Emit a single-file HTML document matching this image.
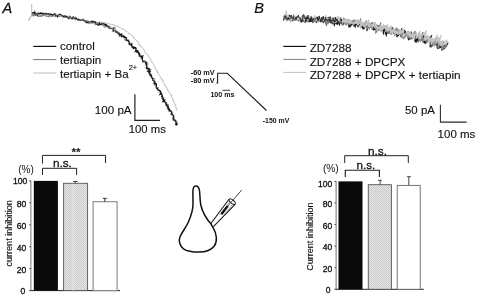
<!DOCTYPE html>
<html lang="en"><head><meta charset="utf-8"><title>Figure</title>
<style>
html,body{margin:0;padding:0;background:#fff;}
body{width:478px;height:296px;overflow:hidden;}
svg{display:block;filter:blur(0.3px);font-family:"Liberation Sans", Arial, sans-serif;}
text{fill:#111;}
.lg{font-size:11.6px;stroke:#111;stroke-width:0.12px;}
.sc{font-size:11.1px;stroke:#111;stroke-width:0.12px;}
.tk{font-size:8.9px;stroke:#111;stroke-width:0.32px;}
.pc{font-size:10.2px;}
.sm{font-size:6.6px;font-weight:bold;}
</style></head><body>
<svg width="478" height="296" viewBox="0 0 478 296">
<defs>
<pattern id="dots" width="2" height="2" patternUnits="userSpaceOnUse"><rect width="2" height="2" fill="#e0e0e0"/><rect width="1" height="1" fill="#d0d0d0"/><rect x="1" y="1" width="1" height="1" fill="#d0d0d0"/></pattern>
</defs>
<rect width="478" height="296" fill="#fff"/>

<text x="2.5" y="13" font-size="14.5" font-style="italic" stroke="#111" stroke-width="0.3">A</text>
<text x="254.3" y="12.8" font-size="14.6" font-style="italic" stroke="#111" stroke-width="0.15">B</text>
<path d="M32.0,16.1 L32.7,15.6 L33.4,15.5 L34.1,14.9 L34.8,15.4 L35.5,15.5 L36.2,15.7 L36.9,15.7 L37.6,16.1 L38.3,16.1 L39.0,15.9 L39.7,16.5 L40.4,16.4 L41.1,16.7 L41.8,16.2 L42.5,16.0 L43.2,15.7 L43.9,15.2 L44.6,15.7 L45.3,15.1 L46.0,15.2 L46.7,15.7 L47.4,16.5 L48.1,16.3 L48.8,15.9 L49.5,15.9 L50.2,16.2 L50.9,16.0 L51.6,15.9 L52.3,16.1 L53.0,16.4 L53.7,16.8 L54.4,16.1 L55.1,16.5 L55.8,16.5 L56.5,16.1 L57.2,16.4 L57.9,16.3 L58.6,16.8 L59.3,16.3 L60.1,15.8 L60.7,16.6 L61.4,16.4 L62.2,16.2 L62.8,16.9 L63.4,17.2 L64.1,17.4 L64.8,17.6 L65.6,16.8 L66.3,17.2 L66.9,17.5 L67.6,17.7 L68.3,18.1 L68.9,18.4 L69.6,18.6 L70.4,17.9 L71.0,18.6 L71.9,17.9 L72.5,18.3 L73.3,17.9 L73.8,18.8 L74.5,19.0 L75.3,18.7 L75.8,19.5 L76.7,18.9 L77.3,19.2 L78.0,19.5 L78.7,19.5 L79.2,20.3 L79.8,20.8 L80.8,19.8 L81.4,20.3 L82.2,20.0 L82.7,20.8 L83.4,20.7 L84.1,21.0 L84.7,21.3 L85.4,21.4 L86.2,21.1 L86.7,22.0 L87.6,21.1 L88.2,21.5 L88.9,21.6 L89.6,21.4 L90.3,21.9 L91.0,22.4 L91.7,22.2 L92.4,21.9 L93.2,21.3 L93.8,21.9 L94.5,22.1 L95.2,22.2 L95.9,22.2 L96.6,22.7 L97.3,22.5 L98.0,22.7 L98.7,23.0 L99.4,22.4 L100.1,22.6 L100.7,23.4 L101.4,23.1 L102.2,22.6 L102.9,23.0 L103.5,23.1 L104.2,23.3 L105.0,23.0 L105.7,22.9 L106.4,23.0 L107.0,23.5 L107.7,23.5 L108.5,23.5 L109.1,23.8 L109.8,23.9 L110.4,24.4 L111.2,24.1 L111.8,24.5 L112.5,24.6 L113.2,24.7 L114.0,24.7 L114.4,25.8 L115.2,25.7 L115.7,26.3 L116.5,26.0 L117.4,25.7 L117.8,26.5 L118.4,26.8 L119.1,27.1 L119.6,27.5 L120.4,27.6 L121.0,27.9 L121.5,28.4 L121.9,29.3 L122.7,29.2 L123.6,28.9 L124.1,29.5 L124.9,29.7 L125.3,30.2 L125.5,31.1 L126.2,31.4 L126.9,31.5 L127.4,32.1 L127.9,32.6 L128.5,33.0 L128.8,33.7 L129.7,33.6 L130.1,34.3 L130.7,34.6 L131.5,34.9 L131.9,35.4 L132.5,35.8 L133.2,36.1 L133.1,37.2 L133.9,37.4 L134.0,38.3 L134.5,38.8 L135.0,39.3 L135.8,39.5 L136.2,40.0 L136.8,40.4 L137.1,41.1 L138.0,41.3 L138.2,42.0 L138.5,42.6 L139.0,43.2 L138.3,44.6 L139.3,44.7 L140.1,45.0 L140.0,46.0 L141.1,46.0 L141.3,46.7 L141.7,47.3 L142.4,47.6 L142.7,48.3 L143.1,48.8 L143.4,49.5 L144.2,49.8 L144.5,50.5 L144.6,51.2 L144.7,52.0 L145.2,52.5 L145.4,53.2 L146.2,53.5 L147.0,53.8 L147.4,54.4 L148.2,54.7 L148.2,55.5 L148.6,56.1 L148.6,56.9 L149.0,57.5 L149.7,57.9 L150.0,58.6 L150.5,59.1 L150.5,59.9 L150.8,60.5 L151.3,61.0 L152.1,61.4 L151.8,62.4 L152.4,62.8 L152.9,63.3 L153.3,64.0 L153.5,64.6 L153.7,65.3 L154.3,65.8 L154.6,66.4 L154.9,67.1 L155.0,67.8 L155.2,68.5 L155.8,68.9 L156.1,69.6 L156.7,70.0 L157.2,70.6 L156.8,71.6 L157.8,71.9 L157.4,72.9 L158.4,73.1 L158.5,73.8 L158.6,74.6 L159.2,75.0 L159.5,75.7 L160.0,76.2 L160.4,76.8 L160.7,77.4 L161.2,77.9 L161.0,78.9 L161.9,79.2 L161.7,80.1 L163.2,80.1 L162.8,81.1 L163.0,81.8 L163.5,82.3 L163.5,83.1 L164.0,83.6 L164.6,84.1 L164.9,84.7 L164.7,85.6 L165.8,85.8 L166.1,86.5 L166.5,87.0 L166.6,87.8 L167.2,88.3 L167.3,89.0 L167.1,89.9 L168.0,90.2 L168.6,90.7 L168.8,91.3 L168.8,92.1 L169.4,92.6 L169.4,93.4 L170.1,93.8 L170.7,94.3 L170.6,95.2 L171.8,95.3 L171.5,96.2 L171.6,97.0 L172.2,97.5 L172.4,98.2 L172.8,98.7 L173.2,99.3 L172.7,100.4 L173.6,100.7 L173.9,101.3 L173.7,102.2 L174.3,102.7 L174.3,103.4 L174.9,103.9 L175.0,104.6 L176.1,105.0 L175.5,105.9 L175.7,106.5 L176.2,107.2 L175.6,108.0 L176.4,108.5 L176.1,109.3 L176.8,109.9 L177.0,110.5" fill="none" stroke="#b8b8b8" stroke-width="1"/>
<path d="M32.0,15.3 L32.6,15.7 L33.1,14.3 L33.6,16.3 L34.2,14.0 L34.8,14.6 L35.3,15.6 L35.9,14.8 L36.4,15.0 L37.0,15.0 L37.5,15.7 L38.0,16.8 L38.6,15.7 L39.1,15.4 L39.7,16.7 L40.2,16.0 L40.8,16.0 L41.3,16.2 L41.9,14.8 L42.4,15.3 L43.0,14.8 L43.5,15.3 L44.1,15.6 L44.7,15.0 L45.2,15.7 L45.7,16.3 L46.3,16.6 L46.8,16.5 L47.4,16.4 L47.9,16.9 L48.5,16.3 L49.0,17.3 L49.6,14.2 L50.1,15.7 L50.7,16.0 L51.2,16.7 L51.8,16.2 L52.4,15.3 L52.9,15.5 L53.5,15.4 L54.0,14.6 L54.6,15.3 L55.2,14.0 L55.6,16.7 L56.1,16.9 L56.7,16.0 L57.2,16.5 L57.8,16.1 L58.4,15.6 L58.9,16.2 L59.4,16.7 L60.1,15.7 L60.6,15.6 L61.2,15.7 L61.7,16.1 L62.2,16.6 L62.9,15.4 L63.3,16.1 L63.9,16.0 L64.6,15.0 L65.0,16.1 L65.5,16.4 L66.1,16.6 L66.5,17.2 L67.2,16.2 L67.6,17.6 L68.2,17.3 L68.8,16.8 L69.2,17.7 L69.8,17.6 L70.6,16.6 L70.9,17.6 L71.5,17.3 L71.9,18.1 L72.5,17.9 L72.7,19.6 L73.9,17.0 L74.1,18.3 L74.7,18.4 L75.6,16.6 L76.0,17.5 L76.5,17.7 L76.9,18.7 L77.2,19.7 L77.8,19.4 L78.5,19.2 L78.6,20.9 L79.2,20.7 L80.0,19.6 L80.5,20.0 L81.1,19.9 L81.7,19.9 L82.3,19.6 L82.7,20.4 L83.7,18.7 L83.8,20.6 L84.3,20.6 L84.9,20.8 L85.1,22.0 L86.2,20.0 L86.3,21.9 L86.9,21.5 L87.6,20.8 L87.9,22.0 L88.5,21.9 L88.7,23.7 L89.4,23.3 L90.1,22.5 L90.8,21.9 L91.3,21.9 L91.9,21.8 L92.6,21.4 L93.1,21.2 L93.6,21.7 L94.1,22.3 L94.6,22.4 L95.2,22.3 L95.7,22.3 L95.9,24.5 L96.8,22.3 L97.3,22.6 L97.8,23.4 L98.4,22.9 L98.9,23.4 L99.4,23.6 L99.9,23.9 L100.5,23.8 L101.3,23.4 L101.2,25.2 L102.2,24.1 L102.4,25.3 L103.0,25.3 L103.6,25.2 L103.8,26.4 L104.4,26.0 L104.8,26.7 L105.9,25.2 L106.0,26.5 L106.7,26.3 L107.3,26.2 L108.1,25.5 L108.4,26.5 L109.2,26.1 L110.0,26.0 L109.0,28.9 L110.1,27.9 L110.3,28.8 L111.3,28.0 L111.6,28.7 L112.3,28.6 L112.9,28.5 L113.7,28.4 L114.2,28.5 L115.2,27.8 L114.9,29.5 L115.4,29.8 L115.4,30.8 L116.1,30.8 L115.7,32.6 L116.6,32.0 L117.4,31.8 L117.2,32.9 L118.4,32.3 L119.3,32.2 L119.3,33.0 L119.5,33.6 L120.2,33.7 L120.5,34.2 L119.3,36.4 L120.7,35.6 L120.6,36.6 L122.4,35.3 L122.2,36.4 L122.9,36.4 L124.1,35.9 L124.8,35.9 L124.6,37.0 L125.0,37.3 L125.3,37.8 L124.8,39.3 L124.8,40.1 L125.5,40.1 L126.4,40.0 L126.7,40.4 L127.2,40.7 L127.8,40.8 L129.1,40.3 L128.9,41.3 L128.9,42.1 L129.1,42.7 L129.3,43.3 L129.9,43.4 L131.3,42.8 L131.6,43.3 L132.2,43.5 L131.1,45.3 L132.1,45.1 L132.3,45.6 L132.4,46.3 L133.2,46.3 L133.9,46.4 L134.1,47.0 L134.6,47.3 L134.4,48.2 L135.0,48.4 L136.1,48.2 L135.5,49.4 L135.7,50.1 L136.6,49.9 L136.4,50.8 L137.6,50.5 L137.1,51.7 L137.9,51.8 L138.7,51.8 L138.8,52.5 L138.6,53.3 L139.3,53.4 L139.1,54.3 L139.1,54.9 L140.0,55.0 L140.0,55.6 L139.3,56.8 L140.9,56.4 L141.9,56.4 L141.8,57.1 L142.7,57.2 L141.5,58.6 L142.0,58.9 L141.9,59.6 L142.4,59.9 L143.2,60.1 L143.6,60.5 L144.6,60.6 L145.3,60.9 L145.6,61.4 L145.4,62.1 L146.7,62.0 L144.9,63.5 L147.5,62.9 L147.1,63.7 L147.8,64.0 L147.8,64.6 L146.5,65.8 L146.6,66.4 L146.9,66.9 L146.9,67.5 L147.7,67.7 L147.1,68.6 L147.1,69.2 L147.8,69.5 L148.0,70.0 L147.8,70.7 L148.5,71.0 L148.9,71.4 L150.9,71.0 L150.0,72.0 L149.9,72.7 L150.1,73.3 L149.7,74.0 L149.0,75.0 L150.2,75.0 L150.1,75.7 L151.0,75.8 L151.1,76.4 L150.9,77.1 L151.4,77.5 L151.2,78.2 L152.4,78.2 L152.8,78.7 L154.1,78.6 L154.7,78.9 L154.3,79.7 L154.6,80.2 L154.6,80.8 L155.0,81.3 L155.3,81.7 L155.0,82.5 L155.0,83.1 L155.2,83.6 L155.5,84.0 L154.4,85.3 L156.2,84.9 L156.7,85.3 L155.8,86.4 L156.3,86.7 L156.8,87.1 L157.1,87.6 L158.3,87.5 L158.2,88.2 L157.0,89.5 L157.4,89.9 L158.8,89.8 L157.8,90.9 L159.6,90.6 L159.4,91.3 L159.1,92.1 L160.2,92.2 L160.2,92.8 L160.4,93.3 L160.8,93.7 L160.5,94.5 L161.0,94.8 L162.3,94.8 L162.2,95.4 L161.6,96.4 L161.5,97.0 L161.9,97.5 L161.6,98.3 L162.0,98.7 L163.3,98.6 L163.1,99.3 L164.7,99.1 L164.9,99.6 L163.9,100.7 L164.9,100.8 L165.5,101.2 L165.6,101.7 L166.3,102.0 L166.0,102.8 L167.1,102.8 L166.8,103.6 L165.3,105.0 L167.2,104.6 L168.4,104.6 L167.1,105.9 L167.3,106.5 L167.1,107.2 L168.1,107.3 L168.7,107.6 L167.7,108.7 L168.2,109.1 L169.8,108.9 L168.6,110.1 L169.3,110.3 L168.9,111.2 L170.0,111.2 L170.0,111.8 L171.2,111.9 L171.6,112.2 L172.2,112.6 L172.3,113.1 L171.9,114.0 L171.6,114.7 L172.1,115.1 L171.9,115.8 L173.1,115.8 L173.5,116.2 L173.1,117.1 L174.3,117.1 L173.8,117.9 L174.0,118.5 L173.4,119.3 L172.6,120.2 L173.8,120.3 L173.8,120.9 L175.9,120.7 L176.7,120.9 L176.2,121.8 L177.2,121.9 L175.0,123.4 L175.8,123.7 L177.4,123.6 L177.0,124.4 L177.3,124.8 L176.8,125.6" fill="none" stroke="#7c7c7c" stroke-width="1"/>
<path d="M32.0,14.3 L32.6,12.8 L33.1,12.8 L33.7,12.5 L34.2,13.8 L34.8,12.2 L35.3,14.6 L35.9,13.4 L36.4,14.3 L36.9,14.3 L37.4,15.2 L38.1,13.0 L38.6,13.6 L39.2,13.4 L39.7,14.2 L40.3,13.0 L40.8,13.5 L41.4,13.0 L41.9,13.5 L42.4,14.0 L43.0,13.2 L43.5,14.4 L44.1,14.0 L44.7,13.7 L45.2,14.0 L45.8,13.4 L46.3,14.0 L46.9,13.7 L47.4,14.0 L47.9,14.3 L48.5,13.6 L49.0,13.9 L49.6,14.0 L50.1,14.1 L50.7,14.3 L51.2,14.7 L51.8,14.1 L52.3,14.9 L52.8,15.7 L53.4,14.9 L54.0,14.1 L54.6,13.6 L55.1,13.9 L55.5,15.7 L56.1,15.4 L56.7,15.4 L57.2,16.0 L57.6,16.7 L58.4,15.0 L58.9,14.6 L59.5,14.4 L60.1,14.3 L60.7,14.3 L61.2,14.9 L61.7,15.2 L62.1,15.7 L62.6,16.1 L63.1,16.5 L63.7,16.4 L64.2,16.8 L64.9,16.0 L65.2,17.0 L65.9,16.6 L66.5,16.3 L66.9,17.1 L67.5,17.1 L67.9,18.0 L68.4,18.3 L68.9,18.6 L69.8,16.7 L70.3,16.8 L70.7,17.6 L71.1,18.2 L71.5,18.8 L72.2,18.4 L73.2,16.8 L73.6,17.5 L74.0,18.2 L74.5,18.1 L75.0,18.7 L75.6,18.3 L76.1,18.5 L76.6,18.9 L77.1,19.3 L77.6,19.5 L78.1,19.6 L78.8,19.3 L79.2,19.9 L79.8,19.8 L80.2,20.3 L80.8,20.3 L81.5,19.9 L82.1,19.7 L82.7,19.6 L83.1,20.3 L83.6,20.3 L84.2,20.4 L84.6,21.0 L85.2,21.0 L85.5,21.9 L86.2,21.5 L86.5,22.7 L87.1,22.5 L87.6,22.6 L88.4,21.6 L88.8,22.2 L89.3,22.7 L90.0,21.9 L90.5,22.2 L91.1,22.2 L91.9,21.1 L92.3,21.8 L92.8,22.2 L93.4,21.6 L93.8,22.6 L94.5,21.8 L94.9,22.7 L95.6,22.2 L95.8,24.1 L96.3,24.2 L96.8,24.4 L97.4,24.2 L97.8,25.2 L98.3,25.4 L99.3,23.0 L99.6,24.6 L100.0,24.8 L100.8,24.2 L101.6,23.4 L101.8,24.4 L102.6,23.9 L103.2,23.7 L103.9,23.4 L104.1,24.5 L104.6,24.9 L105.3,24.4 L105.6,25.3 L106.4,24.7 L106.5,26.1 L107.1,25.9 L107.7,26.0 L108.2,26.3 L108.4,27.1 L108.8,27.5 L109.2,27.9 L109.8,28.0 L110.3,28.2 L110.8,28.5 L111.5,28.3 L111.9,28.7 L112.7,28.5 L113.7,27.9 L113.1,30.0 L113.1,31.1 L113.9,30.7 L114.6,30.7 L115.0,31.0 L115.5,31.3 L115.9,31.8 L116.6,31.6 L116.8,32.1 L117.5,32.1 L117.5,33.0 L118.1,33.1 L118.2,33.8 L119.0,33.8 L119.2,34.5 L120.0,34.3 L119.8,35.3 L121.7,34.0 L121.7,34.8 L121.7,35.7 L121.6,36.7 L123.1,35.8 L123.4,36.2 L124.0,36.4 L123.8,37.4 L124.9,37.0 L125.1,37.6 L125.9,37.6 L126.5,37.7 L126.1,39.0 L126.2,39.8 L126.2,40.5 L127.3,40.1 L128.1,40.1 L128.1,40.9 L128.6,41.2 L128.8,41.7 L129.2,42.2 L128.9,43.2 L129.5,43.4 L129.3,44.4 L130.0,44.4 L130.6,44.6 L131.8,44.2 L131.2,45.5 L131.7,45.9 L131.8,46.5 L132.0,47.1 L132.9,47.0 L132.9,47.7 L134.1,47.4 L133.7,48.4 L135.6,47.5 L135.9,48.0 L136.0,48.7 L135.8,49.5 L136.2,49.9 L135.3,51.4 L136.7,50.9 L137.7,50.8 L137.0,52.1 L138.1,51.9 L138.7,52.1 L138.3,53.2 L138.9,53.4 L139.7,53.5 L139.1,54.6 L139.7,54.8 L139.2,55.8 L140.1,55.8 L140.3,56.4 L141.7,56.1 L142.8,56.0 L141.3,57.7 L142.6,57.5 L142.3,58.4 L142.5,58.9 L142.4,59.5 L142.4,60.1 L142.7,60.5 L142.9,61.1 L142.8,61.8 L144.1,61.7 L145.1,61.8 L145.6,62.2 L145.8,62.7 L146.7,62.9 L145.7,64.0 L146.4,64.2 L146.4,64.9 L146.3,65.5 L147.0,65.8 L146.8,66.5 L146.1,67.5 L146.4,67.9 L147.5,68.0 L147.1,68.8 L149.1,68.5 L148.8,69.2 L148.8,69.8 L150.1,69.8 L147.9,71.5 L149.1,71.5 L150.1,71.7 L148.7,72.9 L149.5,73.2 L149.6,73.7 L150.2,74.0 L150.1,74.7 L151.2,74.8 L150.5,75.7 L151.6,75.8 L151.8,76.3 L151.5,77.1 L152.1,77.4 L152.2,77.9 L152.4,78.5 L153.1,78.7 L152.6,79.6 L152.6,80.2 L153.3,80.5 L153.4,81.0 L154.4,81.2 L154.5,81.7 L155.0,82.1 L154.0,83.2 L155.1,83.2 L154.8,84.0 L156.4,83.8 L156.6,84.3 L156.6,84.9 L156.2,85.8 L156.4,86.3 L156.1,87.1 L156.2,87.7 L156.4,88.2 L157.5,88.2 L157.4,88.9 L157.9,89.2 L158.3,89.7 L158.4,90.2 L159.6,90.2 L159.9,90.7 L160.6,90.9 L160.5,91.6 L160.5,92.2 L161.3,92.4 L160.5,93.5 L159.8,94.5 L161.7,94.0 L161.7,94.7 L162.2,95.1 L162.3,95.6 L161.7,96.6 L162.6,96.7 L163.0,97.1 L162.5,98.0 L163.4,98.2 L162.8,99.1 L163.5,99.4 L163.2,100.2 L164.4,100.1 L163.0,101.5 L164.4,101.4 L164.7,101.8 L165.1,102.3 L165.5,102.7 L165.7,103.2 L165.7,103.8 L166.4,104.0 L166.2,104.8 L167.1,104.9 L166.8,105.7 L167.1,106.1 L168.3,106.1 L167.6,107.1 L168.5,107.3 L167.9,108.2 L168.3,108.6 L168.2,109.3 L169.6,109.2 L169.6,109.8 L169.2,110.6 L170.4,110.6 L171.1,110.9 L171.1,111.5 L171.7,111.8 L171.9,112.3 L171.5,113.2 L171.0,114.0 L172.2,114.0 L172.3,114.6 L173.0,114.9 L173.4,115.3 L173.7,115.8 L173.6,116.4 L173.1,117.3 L173.8,117.6 L172.8,118.7 L173.1,119.1 L174.0,119.3 L174.0,119.9 L175.2,120.0 L175.4,120.5 L175.3,121.1 L175.7,121.6 L175.9,122.1 L176.2,122.5 L176.3,123.1 L175.6,124.0 L177.1,124.0 L176.1,125.0 L176.6,125.4" fill="none" stroke="#151515" stroke-width="1.1"/>
<clipPath id="early"><rect x="0" y="0" width="118" height="60"/></clipPath>
<path d="M32.0,15.4 L32.6,14.7 L33.1,15.9 L33.7,14.0 L34.2,14.1 L34.7,15.1 L35.3,13.7 L35.9,14.2 L36.4,14.9 L36.9,14.7 L37.5,14.2 L38.0,14.8 L38.6,14.5 L39.1,15.0 L39.7,13.8 L40.3,14.6 L40.7,16.1 L41.3,16.9 L41.9,15.1 L42.4,16.3 L43.0,14.9 L43.6,14.5 L44.1,14.1 L44.7,14.3 L45.2,15.2 L45.7,15.3 L46.3,15.1 L46.8,14.9 L47.4,15.1 L47.9,15.1 L48.5,15.8 L49.0,15.2 L49.6,15.7 L50.1,15.6 L50.7,15.6 L51.2,15.7 L51.8,15.6 L52.3,16.3 L52.9,15.4 L53.4,16.2 L54.0,14.9 L54.6,14.6 L55.1,14.9 L55.7,15.1 L56.2,15.0 L56.7,15.4 L57.3,15.2 L57.9,14.9 L58.4,14.8 L58.9,15.4 L59.4,16.8 L59.9,16.4 L60.6,15.5 L61.1,15.9 L61.7,15.9 L62.1,17.0 L62.7,16.5 L63.0,18.1 L63.7,17.2 L64.3,16.9 L64.9,16.6 L65.3,17.6 L65.9,17.3 L66.5,17.0 L67.0,17.6 L67.6,16.9 L68.1,17.3 L68.8,16.6 L69.6,15.3 L69.7,17.9 L70.5,16.7 L70.6,18.9 L71.1,18.9 L72.0,17.4 L72.7,16.8 L73.3,16.7 L73.5,18.4 L74.1,18.3 L74.6,18.6 L75.1,19.0 L75.3,20.4 L76.1,19.2 L76.6,19.5 L77.1,19.9 L77.5,20.4 L78.0,20.7 L78.8,19.8 L79.3,20.0 L80.1,19.5 L80.7,19.3 L81.0,20.3 L81.8,19.4 L82.3,19.8 L82.9,19.6 L83.3,20.0 L83.6,21.1 L84.3,20.7 L84.8,21.0 L85.1,21.7 L85.7,21.9 L86.2,22.0 L86.9,21.5 L87.6,20.4 L87.9,22.0 L88.4,22.2 L88.9,22.8 L89.6,21.9 L89.7,24.1 L90.7,22.1 L91.0,23.5 L91.6,23.3 L92.2,23.0 L92.6,23.7 L93.3,23.0 L94.1,21.8 L94.5,22.7 L94.8,23.9 L95.1,25.3 L96.1,23.1 L96.5,23.9 L96.9,24.6 L97.6,24.0 L98.3,23.4 L98.9,22.8 L99.6,22.4 L100.1,22.8 L100.7,22.9 L101.6,22.0 L102.0,22.7 L102.1,24.2 L102.7,24.3 L103.1,24.6 L103.5,25.4 L103.9,25.7 L104.1,27.1 L104.4,27.7 L104.9,28.0 L105.8,27.1 L106.5,26.8 L107.0,27.1 L107.5,27.3 L108.0,27.4 L108.5,27.5 L109.5,26.8 L110.2,26.7 L109.8,28.4 L110.5,28.4 L111.0,28.7 L111.8,28.3 L112.6,28.0 L112.4,29.5 L113.2,29.2 L114.1,28.7 L114.0,29.9 L114.5,30.2 L114.9,30.7 L114.9,31.8 L116.1,30.8 L116.9,30.4 L117.0,31.5 L117.6,31.6 L117.6,32.5 L118.1,32.8 L118.4,33.2 L119.2,33.2 L119.1,34.1 L119.7,34.2 L119.5,35.3 L120.0,35.6 L120.7,35.6 L120.6,36.6 L121.6,36.2 L121.2,37.5 L122.0,37.4 L122.4,37.8 L123.1,37.8 L123.9,37.8 L125.4,36.8 L124.4,38.8 L125.5,38.5 L124.9,40.0 L125.7,39.9 L125.9,40.5 L126.6,40.5 L127.8,40.0 L128.3,40.4 L128.6,40.9 L129.2,41.0 L129.7,41.3 L129.6,42.2 L129.7,42.9 L129.8,43.5 L130.4,43.7 L130.9,43.9 L131.7,44.0 L131.1,45.3 L131.8,45.4 L132.3,45.7 L132.3,46.5 L132.7,46.8 L133.0,47.3 L134.0,47.1 L134.0,47.9 L134.9,47.8 L134.5,48.9 L135.0,49.1 L135.0,49.9 L135.6,50.1 L136.4,50.1 L135.8,51.4 L137.7,50.5 L138.2,50.8 L137.9,51.7 L137.5,52.8 L138.2,53.0 L138.5,53.4 L139.0,53.7 L138.0,55.0 L139.5,54.7 L140.3,54.8 L140.5,55.3 L141.6,55.3 L141.9,55.7 L141.6,56.6 L142.9,56.4 L143.2,56.8 L143.8,57.1 L144.0,57.6 L143.6,58.6 L143.7,59.2 L144.2,59.6 L144.7,60.0 L144.4,60.8 L143.9,61.6 L144.3,62.0 L144.4,62.6 L145.6,62.6 L144.8,63.6 L146.9,63.2 L147.4,63.6 L147.3,64.3 L147.0,65.0 L147.0,65.6 L147.5,66.0 L147.5,66.6 L148.0,67.0 L148.8,67.2 L147.9,68.2 L147.8,68.9 L147.0,69.9 L147.3,70.4 L147.0,71.1 L147.7,71.4 L148.3,71.7 L148.7,72.1 L149.3,72.4 L149.8,72.8 L149.0,73.8 L150.3,73.8 L150.1,74.5 L150.0,75.2 L150.8,75.4 L150.4,76.2 L151.5,76.2 L151.9,76.7 L151.7,77.4 L151.8,77.9 L151.5,78.7 L152.2,79.0 L152.3,79.5 L152.5,80.0 L153.0,80.4 L154.2,80.4 L154.0,81.2 L153.0,82.2 L154.6,82.1 L153.8,83.1 L154.5,83.3 L154.1,84.2 L155.4,84.1 L155.4,84.7 L156.8,84.6 L155.9,85.7 L155.6,86.5 L157.4,86.2 L156.5,87.3 L158.0,87.1 L158.1,87.7 L159.8,87.4 L158.0,89.0 L159.3,88.9 L159.5,89.4 L160.2,89.7 L160.2,90.3 L159.0,91.6 L159.6,91.9 L158.6,93.0 L159.3,93.3 L159.6,93.7 L160.7,93.8 L160.6,94.4 L159.6,95.6 L160.6,95.7 L160.9,96.2 L161.8,96.3 L161.6,97.1 L161.8,97.6 L163.5,97.2 L163.6,97.8 L162.0,99.3 L163.2,99.3 L163.8,99.6 L164.1,100.1 L164.1,100.7 L164.4,101.1 L164.9,101.5 L163.6,102.9 L164.7,102.9 L165.5,103.0 L166.0,103.4 L166.4,103.8 L167.1,104.0 L167.5,104.5 L167.5,105.1 L169.4,104.7 L168.0,106.1 L167.2,107.1 L167.9,107.4 L169.2,107.3 L169.6,107.7 L168.7,108.8 L169.2,109.2 L169.1,109.9 L168.0,111.0 L169.9,110.7 L170.2,111.1 L171.4,111.2 L171.6,111.6 L172.2,112.0 L172.1,112.7 L170.9,113.9 L172.3,113.8 L171.7,114.7 L172.6,114.9 L172.4,115.6 L172.6,116.1 L173.7,116.2 L172.3,117.5 L173.2,117.6 L172.9,118.4 L174.5,118.2 L173.9,119.1 L173.4,120.0 L174.6,120.0 L175.2,120.4 L174.5,121.2 L174.8,121.7 L175.0,122.3 L175.0,122.8 L175.3,123.3 L175.0,124.0 L175.6,124.4 L176.0,124.8 L175.4,125.7 L176.3,125.9" fill="none" stroke="#8a8a8a" stroke-width="0.9" opacity="0.8" clip-path="url(#early)"/>
<path d="M31.7,4V14.5" fill="none" stroke="#aaa" stroke-width="0.8"/>
<path d="M32.2,14.5L30.3,17.5L28.6,20.6" fill="none" stroke="#999" stroke-width="1"/>
<path d="M33.3,46.4H56.3" stroke="#111" stroke-width="1.2"/>
<path d="M33.3,59.6H56.3" stroke="#777" stroke-width="1"/>
<path d="M33.3,73H56.3" stroke="#bdbdbd" stroke-width="1"/>
<text class="lg" x="60" y="50.3">control</text>
<text class="lg" x="60" y="64">tertiapin</text>
<text class="lg" x="60" y="77.5">tertiapin + Ba<tspan font-size="7.4" dy="-7.2">2+</tspan></text>
<path d="M134.9,94.2V120.3H160" fill="none" stroke="#222" stroke-width="1.2"/>
<text class="sc" x="131.6" y="113.9" text-anchor="end" style="font-size:11.6px">100 pA</text>
<text class="sc" x="128.8" y="132.8" style="font-size:11.3px">100 ms</text>
<text class="sm" x="190.8" y="75.2" style="font-size:7.3px">-60 mV</text>
<text class="sm" x="190.8" y="83.4" style="font-size:7.3px">-80 mV</text>
<text class="sm" x="210.4" y="97.2" style="font-size:7.1px">100 ms</text>
<path d="M222.3,90.3H230.2" stroke="#222" stroke-width="0.9"/>
<path d="M216.3,83H217.6V73.3H227.3L266.5,110.5" fill="none" stroke="#222" stroke-width="1.1"/>
<text class="sm" x="262.8" y="122.9" style="font-size:6.9px">-150 mV</text>
<path d="M283.5,19.8 L283.9,17.3 L284.4,17.3 L284.8,14.8 L285.1,18.0 L285.5,17.5 L286.0,17.3 L286.3,18.8 L286.7,19.5 L287.1,18.0 L287.5,18.1 L287.9,18.1 L288.3,18.8 L288.7,18.0 L289.2,15.3 L289.6,15.3 L289.9,17.5 L290.3,18.8 L290.8,17.3 L291.2,17.2 L291.4,20.1 L291.9,18.5 L292.3,19.5 L292.6,20.2 L293.1,18.8 L293.5,18.2 L293.9,19.4 L294.3,18.2 L294.7,19.3 L295.1,19.2 L295.5,19.7 L295.9,19.0 L296.3,19.2 L296.7,18.9 L297.1,19.6 L297.5,19.5 L297.9,19.4 L298.2,20.7 L298.8,17.0 L299.0,21.1 L299.5,19.5 L299.9,18.2 L300.3,19.1 L300.7,18.7 L301.1,19.7 L301.6,17.0 L301.9,18.9 L302.3,18.8 L302.8,16.5 L303.2,17.4 L303.4,20.3 L303.8,20.9 L304.2,21.7 L304.6,20.9 L305.0,20.3 L305.5,19.6 L305.8,20.8 L306.4,18.0 L306.7,19.2 L307.0,20.2 L307.6,17.6 L307.8,21.2 L308.4,18.0 L308.7,19.0 L308.9,22.3 L309.5,18.4 L309.9,19.0 L310.1,22.0 L310.7,18.6 L311.1,19.8 L311.4,21.3 L311.8,21.1 L312.2,21.1 L312.6,20.7 L312.9,22.3 L313.3,22.1 L313.8,21.7 L314.3,19.9 L314.7,19.7 L315.2,17.7 L315.4,21.1 L316.0,17.3 L316.2,21.2 L316.5,22.8 L317.1,18.9 L317.5,19.5 L317.9,19.7 L318.2,21.5 L318.7,19.2 L319.1,20.4 L319.5,19.8 L319.9,19.9 L320.2,21.8 L320.8,18.4 L321.1,19.9 L321.5,20.1 L321.8,20.8 L322.4,17.7 L322.6,21.5 L323.0,21.1 L323.4,22.1 L323.8,20.9 L324.4,18.0 L324.7,19.0 L325.0,21.1 L325.5,20.2 L325.9,20.5 L326.0,23.7 L326.3,24.6 L327.0,21.2 L327.2,23.8 L328.1,17.7 L328.5,17.6 L328.5,22.1 L329.1,20.6 L329.4,21.9 L329.8,21.6 L330.3,20.6 L330.6,21.6 L331.1,20.6 L331.7,17.9 L331.9,20.7 L332.2,21.1 L332.4,24.2 L333.1,20.4 L333.3,22.7 L333.7,22.5 L334.1,23.3 L334.3,26.1 L334.8,23.7 L335.4,21.8 L335.8,22.3 L336.1,23.1 L336.7,20.5 L337.0,21.8 L337.2,24.5 L337.7,22.9 L338.3,21.1 L338.7,20.4 L339.0,21.4 L339.6,19.7 L339.6,23.8 L340.1,22.6 L340.6,22.1 L341.1,20.0 L341.4,21.3 L341.6,23.5 L342.0,23.3 L342.6,22.2 L342.7,23.8 L343.0,24.5 L343.8,21.9 L344.2,22.1 L344.7,21.8 L345.1,21.5 L345.1,24.3 L345.6,23.3 L346.2,22.5 L347.0,19.7 L347.3,19.9 L347.5,21.8 L347.9,21.5 L348.1,22.8 L348.6,22.1 L348.7,24.7 L348.8,26.8 L349.2,26.6 L349.6,26.9 L350.3,24.4 L350.5,25.7 L351.3,23.6 L351.4,25.6 L352.1,23.2 L352.6,22.7 L353.1,22.1 L353.1,24.5 L353.5,24.5 L353.8,25.4 L354.4,24.0 L354.5,26.2 L355.4,23.2 L355.0,27.5 L356.0,24.5 L356.3,24.9 L356.8,24.5 L357.6,22.1 L358.0,22.5 L358.0,24.7 L357.9,27.3 L359.1,23.1 L359.3,24.0 L359.5,25.3 L360.4,22.6 L360.8,22.5 L360.8,24.5 L361.2,25.0 L361.7,24.2 L361.5,27.3 L362.5,24.5 L362.7,25.6 L362.6,28.1 L362.9,28.7 L364.3,23.4 L364.2,25.9 L364.0,29.0 L365.2,25.0 L365.5,25.8 L366.1,24.9 L366.5,24.8 L366.8,25.3 L366.7,27.9 L366.7,30.1 L367.0,30.4 L368.0,27.3 L369.2,23.5 L368.9,27.0 L369.3,26.9 L369.5,28.1 L370.2,26.8 L371.4,23.2 L371.1,26.6 L372.4,22.4 L372.2,25.3 L372.1,27.3 L372.5,27.4 L372.4,29.6 L374.3,23.1 L373.5,28.4 L373.7,29.5 L374.4,28.1 L374.4,29.9 L375.5,26.8 L375.3,29.4 L375.9,28.6 L377.1,25.4 L377.4,25.7 L377.6,26.8 L378.1,26.3 L377.8,29.5 L378.5,28.0 L378.5,29.9 L379.0,29.6 L379.8,27.7 L380.2,27.6 L380.8,26.9 L381.0,28.0 L381.2,28.9 L381.0,31.3 L382.0,28.9 L382.2,29.9 L382.7,29.4 L383.4,28.1 L383.6,29.1 L383.2,32.8 L383.4,33.5 L384.8,29.1 L385.0,30.1 L385.5,29.9 L385.7,30.5 L385.3,34.3 L386.0,33.1 L386.1,34.3 L386.3,35.3 L387.7,31.1 L388.0,31.4 L388.3,31.8 L388.3,33.5 L389.3,31.3 L389.4,32.4 L389.7,33.2 L390.1,32.9 L390.9,31.4 L391.9,28.9 L392.6,27.2 L391.9,32.4 L392.4,31.7 L393.3,29.8 L393.4,31.2 L393.7,31.8 L394.5,29.9 L393.9,34.2 L394.7,32.7 L394.9,33.4 L395.1,34.6 L396.0,32.5 L396.0,34.0 L396.3,34.6 L396.7,34.5 L397.1,34.5 L396.9,37.4 L398.3,33.0 L398.0,36.2 L399.5,31.2 L399.2,34.3 L399.9,33.4 L400.6,31.9 L401.8,28.4 L400.3,36.9 L401.8,31.9 L402.2,32.2 L402.1,34.2 L402.6,33.8 L403.0,33.9 L403.7,32.6 L404.8,29.9 L404.2,34.3 L405.3,31.0 L405.1,34.0 L405.1,35.5 L405.1,37.2 L406.2,34.5 L406.7,34.0 L407.1,34.2 L408.2,31.5 L407.9,34.1 L408.3,34.1 L408.7,34.4 L408.3,37.4 L409.0,36.6 L408.5,40.1 L409.1,39.2 L411.4,31.6 L410.9,35.2 L411.8,33.4 L411.3,37.3 L411.7,37.2 L411.6,39.1 L412.4,37.5 L412.8,37.9 L413.7,35.6 L415.2,31.4 L414.9,34.4 L415.1,35.3 L415.2,36.1 L415.8,35.4 L414.7,41.5 L415.8,38.8 L415.4,42.1 L416.6,38.9 L415.9,42.9 L417.9,37.2 L417.3,40.8 L418.9,36.7 L418.3,40.1 L418.1,42.4 L420.4,35.8 L420.5,36.9 L420.5,38.2 L421.6,36.0 L423.0,32.4 L422.1,37.0 L423.1,35.0 L422.5,38.4 L423.2,37.6 L424.1,35.9 L423.8,38.3 L423.0,42.7 L425.0,37.0 L424.9,39.0 L424.5,41.6 L424.6,42.8 L425.1,42.5 L427.1,37.2 L425.6,43.8 L427.4,38.9 L427.6,39.7 L427.9,40.1 L428.5,39.6 L429.4,37.6 L429.6,38.5 L429.0,41.9 L430.9,36.8 L431.8,35.4 L430.0,42.8 L430.2,43.4 L430.2,44.9 L429.9,47.3 L431.8,42.3 L431.7,44.2 L431.9,44.8 L431.9,46.2 L432.6,45.2 L434.5,40.4 L435.5,38.4 L435.4,40.3 L436.6,37.6 L435.2,43.7 L436.4,41.0 L436.7,41.4 L437.5,40.3 L436.3,45.5 L437.3,43.6 L437.8,43.3 L437.2,46.7 L437.8,46.1 L437.7,47.9 L437.7,49.1 L439.3,45.2 L439.3,46.5 L439.8,46.3 L439.8,47.7 L440.4,47.1 L441.0,46.5 L441.7,45.6 L441.3,48.4 L442.3,46.2 L441.4,50.5 L441.9,49.3 L441.7,49.8 L443.6,46.9 L444.6,45.8 L445.2,45.5 L443.4,49.6 L445.4,46.9 L446.1,46.5 L448.1,42.8" fill="none" stroke="#1a1a1a" stroke-width="1.15"/>
<path d="M283.5,18.7 L283.9,16.8 L284.3,17.5 L284.8,15.2 L285.1,18.7 L285.6,16.7 L285.9,18.9 L286.3,18.5 L286.7,17.0 L287.0,21.1 L287.6,16.8 L287.9,18.5 L288.3,19.8 L288.7,17.3 L289.0,20.5 L289.5,18.8 L289.8,20.4 L290.3,18.1 L290.7,18.1 L291.0,20.9 L291.5,19.8 L291.9,19.0 L292.3,19.3 L292.7,18.9 L293.2,16.6 L293.6,15.4 L294.0,16.5 L294.4,16.8 L294.8,16.6 L295.1,18.7 L295.5,18.6 L295.9,19.1 L296.3,19.3 L296.7,18.6 L297.1,18.9 L297.5,19.3 L297.9,17.8 L298.3,18.0 L298.7,18.8 L299.1,17.8 L299.5,17.9 L299.9,18.5 L300.2,20.2 L300.7,18.6 L301.2,17.5 L301.6,17.2 L301.9,18.0 L302.2,21.5 L302.9,14.8 L303.1,19.8 L303.5,19.1 L303.9,19.6 L304.4,16.8 L304.6,21.3 L305.0,20.4 L305.5,19.6 L305.8,20.1 L306.3,18.8 L306.7,19.5 L307.1,19.0 L307.4,20.4 L307.9,19.8 L308.3,19.3 L308.6,20.4 L309.0,20.3 L309.5,20.0 L310.0,17.6 L310.2,20.9 L310.8,17.5 L311.2,17.4 L311.5,18.7 L311.9,19.9 L312.2,21.5 L312.8,17.4 L313.0,21.9 L313.4,22.3 L313.9,19.7 L314.2,20.7 L314.6,21.0 L315.0,21.5 L315.4,20.6 L315.9,19.4 L316.3,20.2 L316.7,19.7 L317.0,21.6 L317.6,17.8 L318.0,16.7 L318.3,20.2 L318.7,19.5 L319.0,20.9 L319.5,20.0 L319.9,18.7 L320.3,19.4 L320.6,21.4 L321.0,20.7 L321.5,19.0 L321.8,21.5 L322.4,17.8 L322.7,18.8 L323.1,19.9 L323.6,17.9 L323.9,18.5 L324.2,20.6 L324.6,20.6 L325.1,20.2 L325.5,19.5 L326.0,18.4 L326.4,18.9 L326.3,25.0 L327.1,20.1 L327.2,23.8 L327.8,20.9 L328.0,23.6 L328.5,23.1 L329.0,21.7 L329.5,19.9 L330.0,18.8 L330.1,22.3 L330.8,18.9 L331.2,18.9 L331.3,23.2 L331.7,23.3 L332.2,21.4 L332.6,21.2 L333.1,20.4 L333.4,21.7 L333.9,20.1 L334.4,18.5 L334.7,19.9 L335.0,21.7 L335.6,18.8 L336.0,19.3 L336.3,20.5 L336.6,22.1 L337.2,19.2 L337.6,18.8 L337.8,22.0 L338.4,18.2 L338.7,19.8 L338.9,22.8 L339.3,23.1 L339.8,22.0 L340.5,17.1 L340.5,22.4 L341.0,22.1 L341.5,20.9 L341.8,21.5 L342.1,22.7 L342.7,20.8 L343.3,19.4 L343.9,17.8 L344.0,20.6 L344.5,19.5 L344.8,20.3 L345.2,20.3 L345.2,23.2 L345.5,24.1 L346.0,23.6 L346.7,21.1 L346.7,24.4 L347.2,23.7 L348.2,19.3 L347.9,24.1 L349.0,19.4 L349.2,20.3 L349.2,23.6 L349.6,23.2 L350.2,21.9 L350.6,22.2 L350.7,24.4 L351.6,20.5 L351.6,23.5 L352.3,21.7 L352.5,23.0 L353.1,21.4 L353.8,19.7 L353.9,21.9 L354.3,21.5 L354.9,20.4 L355.2,21.3 L355.6,21.5 L355.8,22.5 L356.2,22.9 L356.9,21.3 L357.6,19.8 L357.6,21.8 L357.6,23.9 L357.9,24.7 L359.0,20.9 L359.1,22.5 L359.8,21.1 L360.7,18.5 L360.6,20.8 L360.6,23.0 L360.9,23.9 L361.1,24.6 L361.6,24.4 L361.7,26.0 L362.6,23.6 L363.2,22.3 L363.0,25.8 L363.7,23.9 L363.7,26.1 L364.7,22.8 L364.6,25.7 L365.9,21.0 L366.3,21.2 L366.0,25.0 L365.8,27.8 L366.9,24.4 L366.4,29.2 L366.8,29.4 L367.4,28.1 L368.2,26.1 L369.2,22.6 L369.4,23.8 L369.5,25.4 L369.4,28.0 L370.0,27.2 L370.6,26.4 L370.7,27.6 L371.8,24.3 L371.5,27.8 L372.4,25.7 L371.9,29.6 L372.8,27.2 L373.7,25.1 L374.1,25.2 L374.9,23.3 L374.6,26.5 L375.5,24.6 L375.5,26.2 L375.4,28.7 L376.0,27.7 L376.2,28.8 L375.5,33.6 L376.5,31.1 L376.6,32.4 L377.6,29.9 L378.5,27.7 L378.5,29.5 L379.6,26.4 L380.8,22.5 L379.9,28.8 L380.4,28.4 L381.2,26.4 L380.6,31.1 L381.5,28.6 L382.2,27.5 L382.9,26.3 L382.4,30.1 L383.4,27.6 L383.7,27.9 L384.1,28.1 L384.7,27.5 L385.4,25.9 L385.4,28.0 L385.7,28.4 L385.3,32.0 L386.5,28.6 L386.1,32.1 L387.1,29.6 L387.7,28.7 L387.8,29.8 L388.1,30.5 L388.4,31.1 L388.5,32.2 L389.1,31.5 L390.3,27.9 L390.5,29.0 L389.9,33.4 L391.0,30.5 L392.2,26.8 L391.5,31.8 L391.3,34.7 L391.9,33.6 L392.8,31.2 L393.3,31.2 L393.6,31.7 L394.4,29.9 L394.9,29.4 L394.3,33.7 L395.6,30.0 L395.4,32.6 L396.9,27.8 L396.9,29.7 L397.3,29.5 L397.0,32.9 L397.8,30.9 L398.3,30.6 L398.9,30.0 L398.8,32.1 L398.8,34.0 L399.8,31.3 L399.7,33.8 L400.3,32.8 L400.9,32.0 L400.8,34.3 L400.7,36.7 L402.7,29.5 L401.6,36.0 L401.6,38.1 L402.8,34.5 L402.7,36.8 L402.9,37.7 L403.4,37.1 L404.0,36.4 L403.9,38.3 L404.4,37.7 L405.4,35.4 L405.8,35.6 L407.1,31.9 L407.2,33.1 L407.4,34.1 L407.6,34.7 L408.1,34.3 L407.5,38.5 L408.4,36.8 L408.7,37.3 L410.1,32.9 L410.2,34.2 L410.7,33.8 L410.9,34.8 L410.5,38.4 L410.5,39.8 L412.2,34.8 L412.6,34.8 L413.2,33.6 L413.8,33.1 L413.5,36.0 L414.6,33.2 L415.4,31.7 L415.0,34.9 L415.7,33.8 L415.6,35.7 L415.8,36.5 L415.8,38.2 L416.4,37.5 L416.7,37.9 L417.7,35.9 L418.0,36.2 L418.1,37.3 L418.7,36.7 L419.0,37.2 L419.3,37.4 L418.5,41.7 L420.1,37.6 L420.0,39.5 L420.5,39.0 L420.2,41.6 L421.8,37.5 L422.5,36.3 L421.7,40.9 L422.4,39.7 L423.1,38.7 L423.9,37.2 L423.1,41.8 L423.9,40.2 L425.0,37.9 L425.5,37.7 L426.1,37.0 L425.3,41.3 L426.4,38.8 L427.1,37.9 L427.1,39.4 L426.4,43.3 L427.1,42.1 L428.4,39.2 L429.0,38.4 L429.0,39.9 L428.9,41.9 L429.7,40.6 L430.2,40.2 L430.3,41.1 L431.1,39.9 L431.7,39.2 L432.2,39.1 L432.1,40.8 L432.2,41.8 L431.9,44.2 L432.4,44.1 L433.4,42.1 L432.7,45.6 L434.8,40.1 L434.0,44.3 L435.6,40.2 L435.3,42.8 L434.9,45.4 L435.6,44.6 L437.4,39.9 L437.3,41.6 L438.3,39.5 L437.9,42.3 L437.7,44.3 L438.6,42.7 L437.6,47.6 L438.4,46.3 L438.6,47.0 L440.0,43.8 L440.4,43.7 L440.8,43.6 L441.1,44.2 L441.6,44.0 L442.4,42.5 L442.9,42.5 L443.4,42.1 L441.5,49.2 L442.5,46.6 L442.5,47.1 L444.3,44.6 L441.8,50.1 L443.4,48.0 L443.8,48.1 L445.0,46.7 L446.6,44.5 L445.1,48.2" fill="none" stroke="#858585" stroke-width="1.2"/>
<path d="M283.5,17.3 L283.9,18.9 L284.3,17.9 L284.6,18.4 L285.0,19.3 L285.4,18.2 L285.8,19.1 L286.1,18.6 L286.5,19.3 L287.0,16.0 L287.3,16.1 L287.7,15.6 L288.1,17.9 L288.5,17.1 L288.8,18.5 L289.2,17.7 L289.6,17.5 L289.9,20.0 L290.3,18.2 L290.7,17.4 L291.1,16.4 L291.4,19.4 L291.8,19.8 L292.2,17.9 L292.6,19.1 L293.0,19.4 L293.4,16.8 L293.8,18.2 L294.1,20.2 L294.6,16.6 L294.9,19.1 L295.2,20.5 L295.7,17.2 L296.1,17.3 L296.4,18.3 L296.8,19.0 L297.2,19.2 L297.6,16.9 L298.0,17.8 L298.3,18.9 L298.7,18.5 L299.0,20.4 L299.5,18.5 L299.8,18.2 L300.1,20.6 L300.6,18.2 L301.0,17.1 L301.4,18.3 L301.8,18.0 L302.1,19.3 L302.5,19.1 L302.9,18.2 L303.3,18.1 L303.7,17.5 L304.0,19.6 L304.3,20.2 L304.8,17.4 L305.2,18.2 L305.6,17.8 L306.0,16.6 L306.4,16.7 L306.7,17.0 L307.2,15.5 L307.5,17.3 L307.8,19.1 L308.1,19.9 L308.6,18.4 L309.0,18.0 L309.3,19.1 L309.6,20.8 L310.2,16.8 L310.5,17.0 L310.9,17.4 L311.2,18.7 L311.7,16.8 L312.0,18.7 L312.4,17.6 L312.7,19.7 L313.1,18.6 L313.5,18.2 L313.9,19.2 L314.4,16.1 L314.7,16.7 L315.0,19.0 L315.4,19.5 L315.8,19.2 L316.3,16.1 L316.5,19.9 L316.9,19.3 L317.3,18.4 L317.8,16.3 L318.0,20.0 L318.4,21.0 L318.8,18.9 L319.2,19.8 L319.7,17.2 L320.0,18.8 L320.4,18.2 L320.8,18.0 L321.1,19.2 L321.5,18.3 L321.9,18.3 L322.3,18.2 L322.6,18.8 L323.0,19.2 L323.3,20.0 L323.8,18.3 L324.1,20.5 L324.6,17.2 L324.9,19.3 L325.3,18.8 L325.9,15.2 L326.1,18.1 L326.3,20.6 L326.8,20.2 L327.2,19.1 L327.6,19.2 L327.9,20.1 L328.3,19.3 L328.7,19.7 L329.1,18.4 L329.5,19.6 L329.9,19.2 L330.3,17.8 L330.7,17.4 L331.1,18.3 L331.3,20.1 L331.8,18.9 L332.0,21.9 L332.6,18.5 L332.8,20.4 L333.3,19.8 L333.5,22.2 L333.9,22.2 L334.3,21.6 L334.8,19.5 L335.2,19.7 L335.5,20.1 L335.7,22.8 L336.3,20.2 L336.6,21.2 L337.0,20.9 L337.6,17.6 L337.9,18.0 L338.4,16.0 L338.6,19.4 L338.8,21.6 L339.4,19.2 L339.6,21.3 L339.9,22.2 L340.4,21.8 L340.8,20.8 L341.1,21.6 L341.6,19.7 L342.0,19.7 L341.9,23.9 L342.8,19.7 L343.2,19.8 L343.4,21.3 L343.7,21.6 L344.0,22.4 L344.7,20.2 L345.1,19.7 L345.5,19.7 L345.6,22.1 L345.9,22.4 L346.7,19.7 L347.0,20.4 L347.2,21.6 L347.7,20.3 L348.1,20.9 L348.2,22.9 L349.0,19.4 L349.1,22.0 L349.2,23.5 L350.1,20.2 L350.0,23.4 L350.7,21.3 L351.2,20.3 L351.2,22.8 L351.7,22.4 L352.0,23.0 L352.3,23.2 L352.8,22.8 L353.1,23.1 L353.5,23.4 L353.7,24.7 L354.3,22.7 L354.7,22.8 L355.4,21.0 L355.6,22.0 L356.1,21.3 L356.0,23.9 L356.6,22.8 L357.5,20.2 L357.4,22.9 L357.8,22.7 L357.7,25.0 L358.4,23.3 L358.6,24.3 L359.1,23.8 L360.0,21.0 L360.4,21.3 L360.6,22.0 L361.2,20.7 L360.2,28.7 L361.3,24.8 L362.1,22.3 L362.5,22.2 L362.4,24.8 L362.9,24.4 L363.5,23.1 L363.8,23.6 L363.6,26.9 L364.2,25.9 L364.4,26.6 L365.1,25.1 L365.2,26.7 L366.4,21.7 L366.1,25.5 L367.0,22.7 L367.6,21.9 L367.5,24.6 L368.7,19.8 L368.5,23.1 L368.9,23.4 L368.6,27.0 L369.6,23.5 L369.4,26.9 L369.7,26.9 L370.4,25.5 L370.8,25.3 L371.3,25.1 L371.9,23.7 L371.9,25.8 L372.8,23.4 L372.3,27.6 L372.8,26.8 L374.2,22.2 L373.7,26.4 L374.6,24.1 L375.4,22.1 L375.4,23.9 L375.2,26.4 L375.8,25.5 L376.5,24.2 L376.1,27.6 L376.7,27.0 L377.0,27.1 L377.7,25.9 L377.4,29.1 L377.6,30.0 L378.6,27.1 L378.7,28.3 L379.2,27.9 L379.6,27.9 L380.5,25.4 L379.7,30.8 L380.8,27.8 L381.0,28.7 L381.9,26.4 L381.3,30.6 L382.3,28.0 L383.4,24.5 L382.7,29.5 L383.6,27.4 L384.4,25.2 L384.5,26.7 L385.2,25.2 L385.0,28.3 L385.3,28.4 L386.4,25.3 L385.9,29.4 L386.0,30.5 L387.7,24.4 L386.7,31.0 L387.4,29.7 L387.7,30.0 L387.9,31.0 L388.8,28.3 L389.6,26.6 L389.5,28.9 L389.9,28.6 L389.9,30.4 L391.3,25.8 L391.0,29.2 L390.2,34.4 L391.5,30.5 L391.6,31.9 L392.1,31.1 L392.7,30.2 L392.7,32.2 L393.2,31.6 L394.0,29.4 L394.3,30.0 L394.2,32.3 L394.9,30.7 L395.2,31.3 L394.8,34.9 L395.4,34.0 L396.5,30.7 L396.3,33.5 L396.8,32.6 L397.2,32.8 L397.8,32.0 L397.5,34.8 L398.5,32.3 L398.7,32.9 L399.4,31.4 L399.2,34.2 L400.2,31.6 L400.8,30.7 L401.0,31.2 L400.8,34.3 L401.6,32.0 L402.9,27.8 L402.6,31.3 L402.8,32.0 L403.3,31.4 L403.7,31.4 L402.8,37.5 L403.4,36.3 L403.8,36.3 L404.6,34.5 L404.8,35.1 L405.3,34.6 L405.8,34.2 L406.3,33.7 L407.1,32.1 L407.5,32.2 L407.6,33.3 L408.3,31.8 L408.1,34.4 L409.0,32.2 L408.6,35.6 L410.0,31.4 L409.6,34.6 L409.6,36.5 L410.1,35.9 L411.1,33.4 L410.6,37.1 L411.4,35.1 L411.6,36.3 L412.0,36.1 L413.1,33.2 L412.4,37.7 L412.9,37.4 L413.1,37.8 L414.4,34.2 L414.1,37.2 L415.2,34.1 L415.9,32.8 L416.3,32.8 L416.1,35.0 L416.8,33.8 L416.3,37.5 L417.1,36.0 L417.3,36.6 L418.4,33.9 L419.3,32.1 L419.9,31.2 L419.5,34.3 L418.9,37.8 L419.2,38.4 L420.9,33.4 L420.2,37.6 L420.3,38.7 L421.7,35.0 L421.7,36.2 L422.8,33.9 L422.9,34.8 L423.4,34.5 L424.1,33.5 L424.3,34.1 L424.9,33.4 L424.6,35.7 L426.5,30.3 L424.6,38.6 L424.5,40.5 L426.0,36.4 L425.8,38.7 L425.8,40.1 L427.0,37.0 L427.6,36.3 L427.8,37.2 L427.6,39.2 L429.0,35.6 L428.3,39.5 L428.5,40.5 L429.8,36.8 L429.4,39.9 L429.1,42.4 L430.3,39.3 L431.0,38.5 L430.5,41.4 L432.0,37.7 L431.9,39.4 L431.1,43.3 L431.1,44.8 L433.2,39.0 L433.3,40.1 L433.5,40.7 L433.6,41.7 L434.6,39.7 L435.6,37.4 L435.2,40.4 L437.2,34.7 L436.0,40.1 L435.9,41.8 L436.1,42.7 L436.9,41.2 L438.5,37.1 L437.6,41.7 L438.9,38.5 L439.3,38.5 L438.8,41.5 L441.1,35.1 L438.8,44.2 L439.8,42.3 L440.0,43.0 L440.9,41.2 L440.7,43.2 L441.0,43.5 L441.4,43.4 L442.7,40.3 L441.9,44.5 L442.5,43.9 L442.5,44.9 L443.2,43.7 L443.5,43.7 L443.8,43.9 L445.9,40.9 L446.8,40.0 L445.6,43.0 L446.8,41.7 L445.9,44.1 L447.8,41.3 L447.4,42.9" fill="none" stroke="#c2c2c2" stroke-width="1.3"/>
<clipPath id="earlyB"><rect x="280" y="0" width="62" height="40"/></clipPath>
<path d="M283.4,20.6 L283.9,18.8 L284.3,18.7 L284.7,18.4 L285.2,16.0 L285.5,18.6 L286.0,16.4 L286.3,18.5 L286.7,17.7 L287.1,19.8 L287.5,18.5 L287.9,18.8 L288.3,17.5 L288.7,19.5 L289.1,18.3 L289.5,19.0 L289.9,18.9 L290.3,18.6 L290.7,17.2 L291.2,15.0 L291.6,15.9 L291.9,18.4 L292.3,18.7 L292.7,19.2 L293.1,17.0 L293.6,16.7 L293.9,19.6 L294.2,20.3 L294.7,19.7 L295.1,19.7 L295.5,17.5 L295.9,18.3 L296.3,19.6 L296.8,16.4 L297.2,16.8 L297.5,17.1 L298.0,16.9 L298.4,15.2 L298.7,17.1 L299.1,17.5 L299.5,18.2 L299.9,18.4 L300.3,19.2 L300.7,18.2 L300.9,22.2 L301.4,19.9 L301.7,22.3 L302.2,21.8 L302.7,19.1 L303.2,16.4 L303.7,14.5 L304.1,15.4 L304.4,17.5 L304.7,18.5 L305.2,17.6 L305.5,18.3 L305.7,22.6 L306.3,19.1 L306.8,16.8 L307.1,19.0 L307.6,16.8 L308.1,15.2 L308.3,19.3 L308.7,18.3 L309.1,19.4 L309.4,21.7 L309.9,19.2 L310.3,18.0 L310.6,21.7 L311.2,16.6 L311.6,17.9 L311.8,21.4 L312.2,21.5 L312.7,19.0 L313.1,18.4 L313.5,19.9 L313.9,20.0 L314.3,20.1 L314.7,19.5 L315.1,18.4 L315.5,18.7 L315.9,18.5 L316.4,18.1 L316.8,17.8 L317.1,19.1 L317.6,17.1 L317.8,20.8 L318.2,20.9 L318.8,17.4 L319.3,15.9 L319.5,18.7 L319.9,19.7 L320.3,19.6 L320.6,21.7 L321.1,19.2 L321.6,17.6 L321.8,20.8 L322.4,17.7 L322.8,18.2 L323.3,16.1 L323.5,19.3 L323.9,19.0 L324.3,19.7 L324.6,20.6 L325.1,19.6 L325.7,17.3 L325.8,20.4 L326.3,19.4 L326.7,20.1 L327.1,20.0 L327.4,21.1 L327.9,19.5 L328.3,19.2 L328.7,20.1 L329.1,19.8 L329.4,21.4 L330.1,16.6 L330.2,21.2 L330.6,20.7 L330.9,23.1 L331.5,20.1 L331.9,19.8 L332.2,20.7 L332.6,21.3 L333.2,17.8 L333.6,19.1 L333.8,21.9 L334.2,21.1 L334.7,20.1 L335.0,22.0 L335.7,17.1 L335.9,20.0 L336.3,19.6 L336.6,21.0 L337.2,19.3 L337.5,20.6 L337.6,24.2 L338.2,21.5 L338.6,21.6 L338.8,24.3 L339.3,23.1 L339.5,25.6 L340.2,20.9 L340.7,20.5 L341.2,18.8 L341.5,20.5 L342.0,18.8 L341.9,24.2 L342.5,21.9 L342.9,22.3 L343.4,21.5 L343.9,21.0 L344.3,20.6 L345.0,18.5 L344.8,23.4 L345.5,20.7 L345.4,24.6 L346.1,22.7 L347.0,18.8 L347.3,19.9 L347.6,20.2 L348.0,20.7 L348.3,21.4 L348.5,22.7 L349.0,21.9 L349.5,21.6 L349.7,22.9 L350.1,22.7 L350.6,21.7 L350.8,23.2 L351.4,22.0 L351.7,23.2 L352.2,22.0 L352.4,23.4 L353.5,18.4 L353.1,24.7 L353.8,22.0 L353.7,25.6 L354.5,23.1 L354.7,24.1 L354.9,25.3 L355.6,23.9 L356.0,23.8 L356.3,24.3 L356.2,26.9 L357.7,21.2 L357.6,23.9 L357.6,26.2 L358.5,23.1 L358.4,26.2 L360.0,19.9 L360.1,21.4 L360.2,22.9 L360.7,22.7 L360.9,23.7 L360.7,27.0 L361.5,24.8 L361.5,27.0 L362.1,25.9 L362.8,24.1 L362.5,27.9 L363.7,23.9 L363.2,28.7 L364.4,24.3 L364.5,26.3 L365.0,25.9 L365.7,24.2 L365.6,27.0 L365.9,27.5 L366.6,26.0 L367.2,24.5 L367.2,26.9 L367.7,26.2 L368.2,26.0 L369.7,20.3 L369.2,24.9 L369.3,26.8 L370.4,23.2 L371.6,19.7 L371.3,23.1 L371.4,24.2 L372.4,21.8 L372.2,24.6 L372.2,26.2 L373.2,23.8 L373.5,24.1 L373.1,27.6 L374.1,25.3 L374.8,23.8 L374.5,26.9 L374.8,27.4 L375.4,26.7 L375.8,26.6 L376.5,25.5 L375.5,31.9 L377.4,25.2 L377.3,27.4 L377.5,28.5 L377.6,29.7 L378.6,27.1 L378.8,28.0 L379.6,26.3 L379.6,28.2 L380.7,24.8 L379.7,31.5 L380.3,30.3 L380.7,30.7 L381.7,27.9 L383.1,23.2 L383.2,24.5 L383.3,26.0 L382.9,30.0 L383.7,28.1 L383.5,30.8 L384.3,29.2 L385.1,27.4 L385.3,28.0 L385.4,29.8 L385.6,30.4 L386.5,28.3 L386.4,30.8 L386.7,31.3 L386.8,32.5 L387.1,33.2 L388.7,27.6 L389.1,27.8 L390.0,25.6 L388.8,32.6 L389.9,29.8 L390.9,27.1 L389.6,34.6 L390.8,31.1 L390.9,32.5 L391.1,33.4 L391.4,34.2 L393.1,28.3 L392.9,30.8 L393.1,31.9 L393.7,30.9 L394.3,30.1 L394.8,29.6 L395.5,28.3 L396.6,25.4 L396.5,27.5 L396.0,31.5 L396.6,30.9 L397.3,29.6 L397.3,31.5 L396.8,35.6 L397.9,32.4 L398.5,31.4 L397.6,37.7 L399.2,31.9 L400.0,30.4 L399.4,34.9 L400.5,31.6 L400.6,33.2 L401.0,33.1 L401.1,34.7 L402.5,29.9 L402.3,32.7 L403.7,28.5 L403.5,31.2 L403.8,31.5 L404.1,32.0 L403.7,35.6 L405.1,31.2 L405.5,31.3 L406.0,31.2 L406.3,31.8 L406.1,34.0 L406.6,33.7 L406.6,35.5 L407.8,32.3 L407.5,35.1 L407.9,35.3 L408.4,34.9 L408.7,35.3 L409.3,34.4 L410.1,33.1 L410.4,33.3 L411.4,31.1 L411.4,32.6 L411.2,35.1 L411.2,36.8 L411.7,36.6 L412.6,34.5 L413.4,32.8 L413.4,34.5 L413.9,34.2 L414.6,33.2 L413.9,37.7 L414.0,38.8 L415.1,36.3 L416.4,32.4 L416.3,34.5 L416.7,34.5 L417.8,31.6 L417.3,35.5 L418.0,34.7 L417.9,36.6 L419.1,33.8 L419.1,35.1 L419.4,35.6 L419.1,38.0 L420.4,34.8 L420.0,37.8 L419.2,42.3 L420.6,38.8 L421.6,36.7 L420.8,40.8 L421.7,39.2 L423.7,33.7 L423.0,37.5 L424.2,34.8 L423.6,38.2 L423.4,40.6 L423.9,40.3 L425.4,36.3 L425.5,37.3 L424.5,42.8 L425.5,40.4 L426.5,38.3 L426.9,38.5 L428.2,35.3 L429.0,33.8 L429.1,35.0 L428.1,40.0 L429.0,38.5 L428.2,42.6 L428.5,43.1 L429.6,40.6 L431.1,37.0 L431.7,36.4 L432.3,35.8 L432.0,38.3 L431.5,41.1 L432.5,39.4 L431.8,43.0 L433.2,39.6 L434.3,37.6 L435.2,35.8 L435.1,37.6 L435.6,37.4 L434.5,42.5 L435.0,42.0 L434.2,46.2 L435.6,42.9 L436.3,41.9 L437.9,38.0 L438.0,39.0 L437.3,42.7 L437.7,42.8 L438.6,41.3 L438.9,41.8 L438.9,43.0 L439.0,44.0 L439.7,43.2 L440.6,41.6 L440.9,42.0 L440.6,44.4 L441.2,43.7 L442.4,40.9 L442.4,42.3 L442.0,45.1 L441.9,47.1 L442.5,45.9 L444.1,43.0 L444.7,42.8 L441.4,49.8 L443.8,46.3 L444.9,45.0 L444.6,46.5 L444.4,47.6 L445.4,46.7 L445.7,47.0" fill="none" stroke="#222" stroke-width="0.9" clip-path="url(#earlyB)"/>
<path d="M286.2,11V19" fill="none" stroke="#888" stroke-width="0.8"/>
<path d="M283.3,46.4H306.2" stroke="#111" stroke-width="1.15"/>
<path d="M283.3,59.4H306.2" stroke="#888" stroke-width="1.05"/>
<path d="M283.3,72.4H306.2" stroke="#c4c4c4" stroke-width="1.05"/>
<text class="lg" x="309.7" y="52.2" style="font-size:11.75px">ZD7288</text>
<text class="lg" x="309.7" y="65.9" style="font-size:11.75px">ZD7288 + DPCPX</text>
<text class="lg" x="309.7" y="79.1" style="font-size:11.75px">ZD7288 + DPCPX + tertiapin</text>
<path d="M440.4,104.7V122.1H466.7" fill="none" stroke="#2a2a2a" stroke-width="1.05"/>
<text class="sc" x="405" y="114.4" style="font-size:11.45px">50 pA</text>
<text class="sc" x="437.6" y="137.5" style="font-size:11.5px">100 ms</text>
<path d="M30.9,180.6V290.6" fill="none" stroke="#444" stroke-width="0.75"/>
<path d="M30.5,290.6H120" fill="none" stroke="#222" stroke-width="1"/>
<path d="M29.099999999999998,290.6H30.9" stroke="#333" stroke-width="0.8"/>
<text class="tk" x="25.4" y="294.4" text-anchor="end" style="font-size:8.6px">0</text>
<path d="M29.099999999999998,268.7H30.9" stroke="#333" stroke-width="0.8"/>
<text class="tk" x="26.4" y="272.5" text-anchor="end" style="font-size:8.6px">20</text>
<path d="M29.099999999999998,246.7H30.9" stroke="#333" stroke-width="0.8"/>
<text class="tk" x="26.4" y="250.5" text-anchor="end" style="font-size:8.6px">40</text>
<path d="M29.099999999999998,224.8H30.9" stroke="#333" stroke-width="0.8"/>
<text class="tk" x="26.4" y="228.6" text-anchor="end" style="font-size:8.6px">60</text>
<path d="M29.099999999999998,202.8H30.9" stroke="#333" stroke-width="0.8"/>
<text class="tk" x="26.4" y="206.6" text-anchor="end" style="font-size:8.6px">80</text>
<path d="M29.099999999999998,180.9H30.9" stroke="#333" stroke-width="0.8"/>
<text class="tk" x="27.3" y="184.2" text-anchor="end" style="font-size:8.6px">100</text>
<rect x="33.8" y="180.9" width="24.1" height="109.7" fill="#0a0a0a"/>
<rect x="63.6" y="183.3" width="24" height="107.3" fill="url(#dots)" stroke="#555" stroke-width="0.9"/>
<path d="M73.2,183.8V290.6" stroke="#ededed" stroke-width="0.7"/>
<path d="M75.3,183.3V181.5M73,181.5H77.6" stroke="#333" stroke-width="0.9" fill="none"/>
<rect x="93.1" y="201.7" width="24" height="88.9" fill="#fff" stroke="#8a8a8a" stroke-width="1.15"/>
<path d="M104.8,201.7V198.4M102.9,198.4H106.8" stroke="#333" stroke-width="1" fill="none"/>
<text class="pc" x="18.2" y="173" style="font-size:10px">(%)</text>
<text x="11.6" y="266.5" font-size="9.05" stroke="#111" stroke-width="0.12" transform="rotate(-90 11.6 266.5)">current inhibition</text>
<path d="M42.5,163.5V155.4H105.5V163" fill="none" stroke="#222" stroke-width="1"/>
<path d="M42.5,174.9V168.3H76.6V174.9" fill="none" stroke="#222" stroke-width="1"/>
<text x="53" y="167.1" font-size="11.7" stroke="#111" stroke-width="0.28">n.s.</text>
<text x="71.4" y="156.2" font-size="11.8" font-weight="bold">**</text>
<path d="M195.7,185.9 C193.6,185.9 192.9,188.5 192.9,192 L193,204 C193,210 190.6,217 188.4,222 C186,227.5 182,232 180,236.8 C178.3,241 179.8,246 183.5,248.8 C187,251.3 193,252.1 199,252.1 C206,252.1 211,250.4 214.3,246 C217.5,241.5 217,234 213.2,227.8 L211.2,224.3 C206.5,219 202.5,212.5 200.8,205 C199.8,200 200,194 199.5,190.5 C199,187.3 197.7,185.9 195.7,185.9 Z" fill="none" stroke="#111" stroke-width="1.5" stroke-linejoin="round"/>
<path d="M210.7,223.8L229,199.2M213.4,226.6L235.1,204.4" fill="none" stroke="#151515" stroke-width="1.05"/>
<ellipse cx="232.2" cy="201.7" rx="3.8" ry="1.7" transform="rotate(40 232.2 201.7)" fill="#fff" stroke="#151515" stroke-width="0.95"/>
<path d="M219.5,214.8L230,201.5M223.6,215.8L233,203.8" fill="none" stroke="#555" stroke-width="0.5"/>
<path d="M222,213.5L227.3,206.6" stroke="#111" stroke-width="2.3" stroke-linecap="round"/>
<path d="M227.3,206.6L241.7,190" stroke="#222" stroke-width="0.85"/>
<path d="M336.1,181.1V289.3" fill="none" stroke="#444" stroke-width="0.75"/>
<path d="M335.70000000000005,289.3H423.8" fill="none" stroke="#222" stroke-width="1"/>
<path d="M334.3,289.3H336.1" stroke="#333" stroke-width="0.8"/>
<text class="tk" x="330.6" y="293.3" text-anchor="end" style="font-size:8.5px">0</text>
<path d="M334.3,267.7H336.1" stroke="#333" stroke-width="0.8"/>
<text class="tk" x="332.2" y="271.7" text-anchor="end" style="font-size:8.5px">20</text>
<path d="M334.3,246.1H336.1" stroke="#333" stroke-width="0.8"/>
<text class="tk" x="332.2" y="250.1" text-anchor="end" style="font-size:8.5px">40</text>
<path d="M334.3,224.6H336.1" stroke="#333" stroke-width="0.8"/>
<text class="tk" x="332.2" y="228.6" text-anchor="end" style="font-size:8.5px">60</text>
<path d="M334.3,203.0H336.1" stroke="#333" stroke-width="0.8"/>
<text class="tk" x="332.2" y="207.0" text-anchor="end" style="font-size:8.5px">80</text>
<path d="M334.3,181.4H336.1" stroke="#333" stroke-width="0.8"/>
<text class="tk" x="332.2" y="187.1" text-anchor="end" style="font-size:8.5px">100</text>
<rect x="338.5" y="181.4" width="24" height="107.9" fill="#0a0a0a"/>
<rect x="368.3" y="184.7" width="23.1" height="104.6" fill="url(#dots)" stroke="#555" stroke-width="0.9"/>
<path d="M380.1,184.7V180.3M377.9,180.3H381.9" stroke="#333" stroke-width="0.9" fill="none"/>
<rect x="397.2" y="185.4" width="23" height="103.9" fill="#fff" stroke="#666" stroke-width="0.9"/>
<path d="M408.8,185.4V176.7M407,176.7H410.9" stroke="#333" stroke-width="0.9" fill="none"/>
<text class="pc" x="322.9" y="172.4">(%)</text>
<text x="313.4" y="270.8" font-size="9.05" stroke="#111" stroke-width="0.12" transform="rotate(-90 313.4 270.8)">Current inhibition</text>
<path d="M344.7,163V155.7H408.3V163" fill="none" stroke="#222" stroke-width="1"/>
<path d="M345.3,177V170.2H379.4V177" fill="none" stroke="#222" stroke-width="1.15"/>
<text x="368" y="154.8" font-size="11.8" stroke="#111" stroke-width="0.28">n.s.</text>
<text x="356.6" y="168.5" font-size="11.6" stroke="#111" stroke-width="0.28">n.s.</text>
</svg></body></html>
